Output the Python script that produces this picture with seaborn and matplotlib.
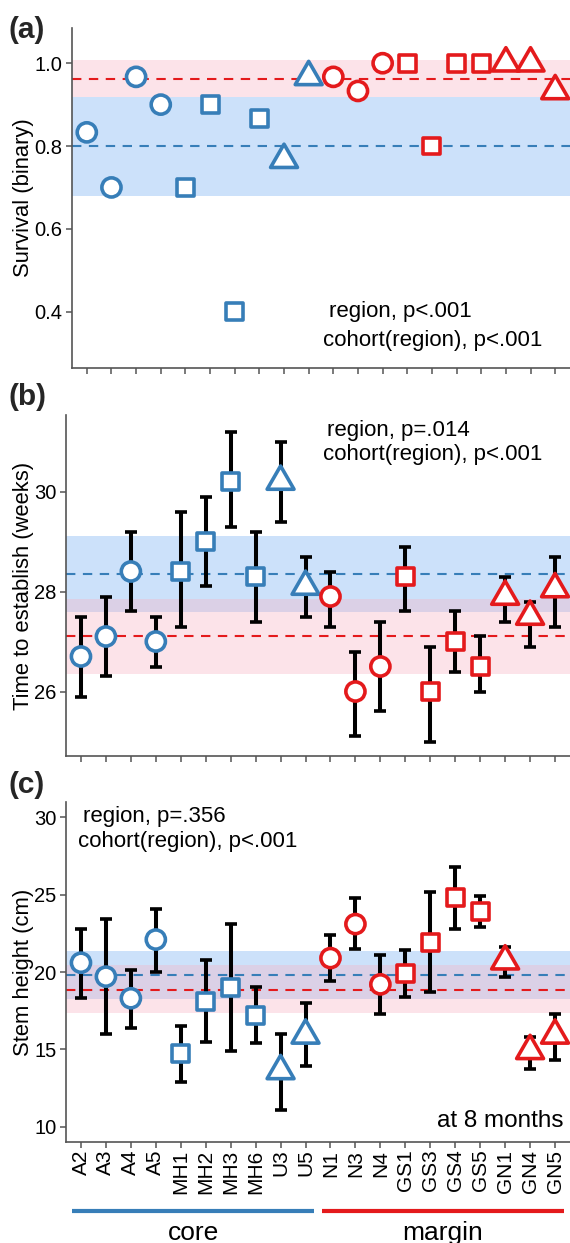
import numpy as np
import pandas as pd
import seaborn as sns
import matplotlib.pyplot as plt
from matplotlib.path import Path
from matplotlib.transforms import blended_transform_factory

# cohorts along the x axis
cohorts = ["A2", "A3", "A4", "A5", "MH1", "MH2", "MH3", "MH6", "U3", "U5",
           "N1", "N3", "N4", "GS1", "GS3", "GS4", "GS5", "GN1", "GN4", "GN5"]
regions = ["core"] * 10 + ["margin"] * 10
shapes = (["circle"] * 4 + ["square"] * 4 + ["triangle"] * 2 +
          ["circle"] * 3 + ["square"] * 4 + ["triangle"] * 3)

# (a) survival
survival = [0.833, 0.70, 0.967, 0.90, 0.70, 0.90, 0.40, 0.867, 0.767, 0.967,
            0.967, 0.933, 1.0, 1.0, 0.80, 1.0, 1.0, 1.0, 1.0, 0.933]
survival_mean = [0.80, 0.962]          # core, margin
survival_band = [(0.68, 0.918), (0.918, 1.007)]

# (b) time to establish
establish = [26.7, 27.1, 28.4, 27.0, 28.4, 29.0, 30.2, 28.3, 30.2, 28.1,
             27.9, 26.0, 26.5, 28.3, 26.0, 27.0, 26.5, 27.9, 27.5, 28.05]
establish_lo = [25.9, 26.3, 27.6, 26.5, 27.3, 28.1, 29.3, 27.4, 29.4, 27.5,
                27.3, 25.1, 25.6, 27.6, 25.0, 26.4, 26.0, 27.4, 26.9, 27.3]
establish_hi = [27.5, 27.9, 29.2, 27.5, 29.6, 29.9, 31.2, 29.2, 31.0, 28.7,
                28.4, 26.8, 27.4, 28.9, 26.9, 27.6, 27.1, 28.3, 27.8, 28.7]
establish_mean = [28.35, 27.1]
establish_band = [(27.59, 29.11), (26.35, 27.85)]

# (c) stem height
height = [20.6, 19.7, 18.3, 22.1, 14.7, 18.1, 19.0, 17.2, 13.6, 15.9,
          20.9, 23.1, 19.2, 19.9, 21.9, 24.8, 23.9, 20.7, 14.9, 15.9]
height_lo = [18.3, 16.0, 16.4, 20.0, 12.9, 15.5, 14.9, 15.4, 11.1, 13.9,
             19.4, 21.5, 17.3, 18.4, 18.7, 22.8, 22.9, 19.7, 13.7, 14.3]
height_hi = [22.8, 23.4, 20.1, 24.1, 16.5, 20.8, 23.1, 19.0, 16.0, 18.0,
             22.4, 24.8, 21.1, 21.4, 25.2, 26.8, 24.9, 21.6, 15.8, 17.3]
height_mean = [19.83, 18.86]
height_band = [(18.24, 21.35), (17.32, 20.43)]

BLUE = "#377EB8"
RED = "#E41A1C"
BAND = ["#CCE1FA", (249 / 255, 178 / 255, 195 / 255, 0.353)]

sns.set_theme(style="ticks")
plt.rcParams["font.family"] = ["Liberation Sans", "DejaVu Sans"]
plt.rcParams["axes.edgecolor"] = "#555555"

# R-style equilateral triangle centred on its centroid
tri = Path([(0, 1.555), (1.3467, -0.7776), (-1.3467, -0.7776), (0, 1.555)],
           [Path.MOVETO, Path.LINETO, Path.LINETO, Path.CLOSEPOLY])

W, H = 570, 1243
fig = plt.figure(figsize=(W / 100, H / 100), dpi=100)


def box(left, top, bottom):
    return [left / W, 1 - bottom / H, (W - left) / W, (bottom - top) / H]


ax_a = fig.add_axes(box(72, 28, 368))
ax_b = fig.add_axes(box(66, 415, 756))
ax_c = fig.add_axes(box(66, 802, 1142))

xpos = np.arange(len(cohorts))


def panel(ax, vals, means, bands, lo=None, hi=None):
    for (b0, b1), col in zip(bands, BAND):
        ax.axhspan(b0, b1, color=col, lw=0, zorder=0)
    for m, col in zip(means, [BLUE, RED]):
        ax.axhline(m, color=col, lw=1.5, dashes=(4.5, 3.6), zorder=1)
    vals = np.array(vals)
    if lo is not None:
        ax.errorbar(xpos, vals, yerr=[vals - np.array(lo), np.array(hi) - vals],
                    fmt="none", ecolor="black", elinewidth=2.9, capsize=4,
                    capthick=2.6, zorder=3)
    df = pd.DataFrame({"x": xpos, "y": vals, "region": regions, "shape": shapes})
    sns.scatterplot(data=df, x="x", y="y", hue="region", style="shape",
                    size="shape", ax=ax, legend=False,
                    palette={"core": BLUE, "margin": RED},
                    markers={"circle": "o", "square": "s", "triangle": tri},
                    sizes={"circle": 190, "square": 148, "triangle": 500})
    coll = ax.collections[-1]
    fc = coll.get_facecolors()
    coll.set_edgecolors(fc)
    coll.set_facecolors("white")
    coll.set_linewidths(2.6)
    coll.set_zorder(4)

    ax.set_xlim(-0.6, 19.6)
    ax.set_xticks(xpos)
    ax.set_xlabel("")
    sns.despine(ax=ax)
    ax.spines["left"].set_linewidth(1.2)
    ax.spines["bottom"].set_linewidth(1.2)
    ax.tick_params(axis="both", length=4, width=1.1, color="#555555",
                   labelcolor="black")
    ax.tick_params(axis="y", pad=3, labelsize=14.5)
    ax.tick_params(axis="x", pad=1.5, labelsize=15)


panel(ax_a, survival, survival_mean, survival_band)
ax_a.set_ylim(0.264, 1.085)
ax_a.set_yticks([0.4, 0.6, 0.8, 1.0])
ax_a.set_yticklabels(["0.4", "0.6", "0.8", "1.0"])
ax_a.tick_params(labelbottom=False)

panel(ax_b, establish, establish_mean, establish_band, establish_lo, establish_hi)
ax_b.set_ylim(24.71, 31.53)
ax_b.set_yticks([26, 28, 30])
ax_b.tick_params(labelbottom=False)

panel(ax_c, height, height_mean, height_band, height_lo, height_hi)
ax_c.set_ylim(9.0, 31.0)
ax_c.set_yticks([10, 15, 20, 25, 30])
ax_c.set_xticklabels(cohorts, rotation=90)

# y labels, centred at the same figure x
for ax, lab in [(ax_a, "Survival (binary)"),
                (ax_b, "Time to establish (weeks)"),
                (ax_c, "Stem height (cm)")]:
    ax.set_ylabel(lab, fontsize=15.8, color="black", va="center")
    ax.yaxis.set_label_coords(24 / W, 0.5,
                              transform=blended_transform_factory(fig.transFigure, ax.transAxes))

# panel letters
for lab, yc in [("(a)", 30), ("(b)", 397), ("(c)", 785)]:
    fig.text(9 / W, 1 - yc / H, lab, fontsize=21.5, fontweight="bold",
             ha="left", va="center")

# test results
kw = dict(fontsize=16, ha="left", va="center", color="black")
ax_a.text(0.516, 0.166, "region, p<.001", transform=ax_a.transAxes, **kw)
ax_a.text(0.505, 0.080, "cohort(region), p<.001", transform=ax_a.transAxes, **kw)
ax_b.text(0.518, 0.954, "region, p=.014", transform=ax_b.transAxes, **kw)
ax_b.text(0.510, 0.883, "cohort(region), p<.001", transform=ax_b.transAxes, **kw)
ax_c.text(0.034, 0.957, "region, p=.356", transform=ax_c.transAxes, **kw)
ax_c.text(0.024, 0.883, "cohort(region), p<.001", transform=ax_c.transAxes, **kw)
ax_c.text(0.987, 0.062, "at 8 months", transform=ax_c.transAxes, fontsize=17.5,
          ha="right", va="center", color="black")

# region bars below the cohort labels
trans = blended_transform_factory(ax_c.transData, fig.transFigure)
for reg, col in [("core", BLUE), ("margin", RED)]:
    idx = [i for i, r in enumerate(regions) if r == reg]
    x0, x1 = min(idx) - 0.35, max(idx) + 0.35
    ax_c.plot([x0, x1], [1 - 1211 / H] * 2, color=col, lw=3, transform=trans,
              clip_on=False, solid_capstyle="butt")
    ax_c.text((x0 + x1) / 2, 1 - 1240 / H, reg, transform=trans, fontsize=19,
              ha="center", va="baseline", color="black")

fig.savefig("out.png", dpi=100)
